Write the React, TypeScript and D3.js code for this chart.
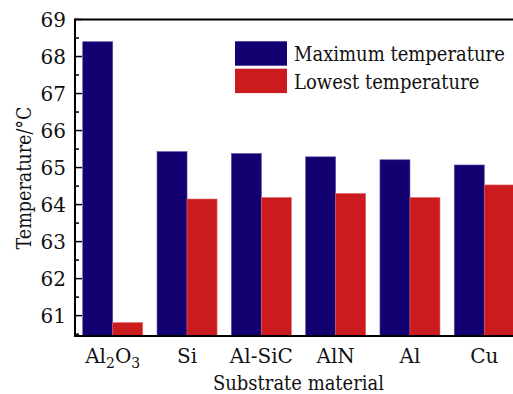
import React from 'react';
import * as d3 from 'd3';

const categories = ['Al2O3', 'Si', 'Al-SiC', 'AlN', 'Al', 'Cu'];
const maxTemp = [68.4, 65.43, 65.38, 65.29, 65.21, 65.07];
const lowTemp = [60.81, 64.15, 64.19, 64.3, 64.19, 64.53];
const seriesNames = ['Maximum temperature', 'Lowest temperature'];
const yTicks = [61, 62, 63, 64, 65, 66, 67, 68, 69];

const COLORS = ['#130071', '#cb1b1f'];
const FONT = "'DejaVu Serif', serif";

const App = () => {
  const width = 513, height = 394;
  const left = 75, right = 522, top = 19.5, bottom = 336;

  const x = d3.scaleBand().domain(categories).range([left, right]).paddingInner(0.1925).paddingOuter(0.104);
  const y = d3.scaleLinear().domain([60.45, 69]).range([bottom, top]);
  const minor = d3.range(60.5, 69, 0.5).filter(v => !yTicks.includes(v));
  const half = x.bandwidth() / 2;

  const label = (c: string) => {
    if (c === 'Al2O3') {
      return (
        <>
          Al<tspan fontSize="14" dy="5">2</tspan><tspan dy="-5">O</tspan><tspan fontSize="14" dy="5">3</tspan>
        </>
      );
    }
    return c;
  };

  return (
    <svg width={width} height={height} style={{ position: 'absolute', left: 0, top: 0, background: '#fff', fontFamily: FONT }}>
      {/* bars */}
      {categories.map((c, i) => (
        <g key={c}>
          <rect x={x(c)} y={y(maxTemp[i])} width={half} height={bottom - y(maxTemp[i])}
            fill={COLORS[0]} stroke="#5a4fa8" strokeWidth={0.6} />
          <rect x={(x(c) as number) + half} y={y(lowTemp[i])} width={half} height={bottom - y(lowTemp[i])}
            fill={COLORS[1]} stroke="#e06066" strokeWidth={0.6} />
        </g>
      ))}

      {/* frame */}
      <line x1={left} x2={width} y1={top} y2={top} stroke="#000" strokeWidth={2} />
      <line x1={left} x2={width} y1={bottom} y2={bottom} stroke="#000" strokeWidth={2} />
      <line x1={left} x2={left} y1={top - 1} y2={bottom + 1} stroke="#000" strokeWidth={2} />

      {/* y ticks */}
      {yTicks.map(t => (
        <g key={t} transform={`translate(0,${y(t)})`}>
          <line x1={left} x2={left + 7} stroke="#000" strokeWidth={1.5} />
          <text x={left - 9} dy="0.36em" textAnchor="end" fontSize="20" fill="#111">{t}</text>
        </g>
      ))}
      {minor.map(t => (
        <line key={t} x1={left} x2={left + 4} y1={y(t)} y2={y(t)} stroke="#000" strokeWidth={1.5} />
      ))}

      {/* x labels */}
      {categories.map(c => (
        <text key={c} x={(x(c) as number) + x.bandwidth() / 2} y={363} textAnchor="middle" fontSize="20" fill="#111">
          {label(c)}
        </text>
      ))}

      {/* axis titles */}
      <text x={298.5} y={390} textAnchor="middle" fontSize="20" fill="#111" textLength={171} lengthAdjust="spacingAndGlyphs">Substrate material</text>
      <text transform={`translate(31,178) rotate(-90)`} textAnchor="middle" fontSize="20" fill="#111" textLength={143} lengthAdjust="spacingAndGlyphs">Temperature/°C</text>

      {/* legend */}
      {seriesNames.map((s, i) => (
        <g key={s} transform={`translate(235,${41.3 + i * 27.4})`}>
          <rect width={52} height={24.4} fill={COLORS[i]} />
          <text transform="translate(59,20) scale(1,1.15)" fontSize="18" fill="#111">{s}</text>
        </g>
      ))}
    </svg>
  );
};

export default App;
